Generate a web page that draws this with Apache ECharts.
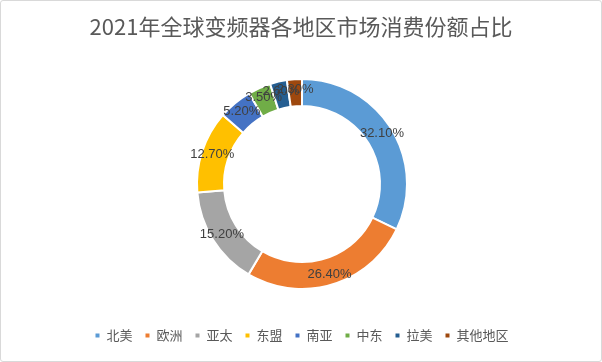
<!DOCTYPE html>
<html><head><meta charset="utf-8">
<script src="https://cdn.jsdelivr.net/npm/echarts@6/dist/echarts.min.js"></script>
<style>
html,body{margin:0;padding:0;background:#fff;}
#c{position:absolute;left:0;top:0;width:600px;height:360px;border:1px solid #d9d9d9;border-radius:3px;}
</style></head>
<body><div id="c"></div>
<script>
const title = '2021年全球变频器各地区市场消费份额占比';
const categories = ['北美','欧洲','亚太','东盟','南亚','中东','拉美','其他地区'];
const values = [32.1, 26.4, 15.2, 12.7, 5.2, 3.5, 2.6, 2.3];
const colors = ['#5B9BD5','#ED7D31','#A5A5A5','#FFC000','#4472C4','#70AD47','#255E91','#9E480E'];
const chart = echarts.init(document.getElementById('c'));
chart.setOption({
  animation:false,
  color: colors,
  title:{text:title,left:'center',top:10,textStyle:{fontFamily:'Noto Sans CJK SC',fontSize:22,fontWeight:'normal',color:'#595959'}},
  legend:{bottom:14,left:'center',itemWidth:6,itemHeight:6,itemGap:11,icon:'rect',
    textStyle:{fontFamily:'Noto Sans CJK SC',fontSize:13,color:'#595959',padding:[0,0,0,1]},
    data:categories},
  series:[{
    type:'pie',
    center:[301,183],
    radius:[78,105],
    startAngle:90,
    clockwise:true,
    avoidLabelOverlap:false,
    minShowLabelAngle:0,
    itemStyle:{borderColor:'#fff',borderWidth:2},
    label:{show:true,position:'inside',formatter:p=>p.value.toFixed(2)+'%',
      fontFamily:'Liberation Sans',fontSize:13,color:'#404040'},
    labelLayout:{hideOverlap:false},
    labelLine:{show:false},
    data: categories.map((c,i)=>({name:c,value:values[i]}))
  }]
});
</script></body></html>
